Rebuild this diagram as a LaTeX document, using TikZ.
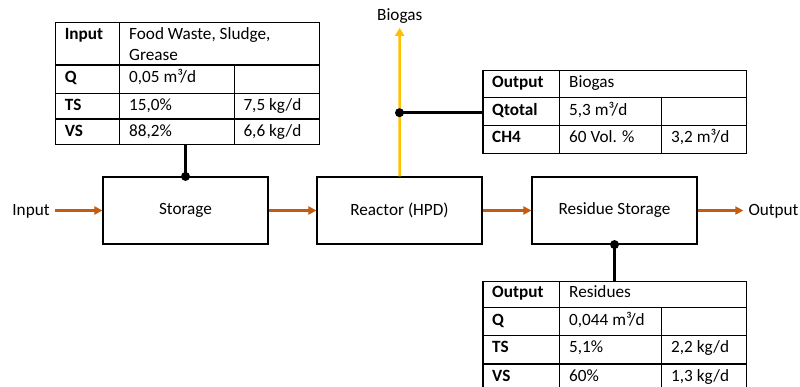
\documentclass[tikz,border=0pt]{standalone}
\usepackage{fontspec}
\setmainfont{Carlito}
\usetikzlibrary{arrows.meta}
\definecolor{orng}{HTML}{C55A11}
\definecolor{yel}{HTML}{FFC000}
\begin{document}
\begin{tikzpicture}[x=1pt,y=-1pt,
  every node/.style={font=\fontsize{17.2}{20}\selectfont},
  procbox/.style={draw, line width=1.1pt, minimum width=165pt, minimum height=67pt, inner sep=0pt},
  tblouter/.style={draw, line width=1.2pt, anchor=north west, inner sep=0pt},
  tline/.style={line width=1.2pt},
  lab/.style={anchor=base west, inner sep=0pt, font=\fontsize{17.2}{20}\selectfont\bfseries},
  val/.style={anchor=base west, inner sep=0pt},
  flow/.style={-{Triangle[length=8pt,width=8pt]}, line width=2.5pt, draw=orng},
  bio/.style={-{Triangle[length=8pt,width=9pt]}, line width=2.5pt, draw=yel},
  conn/.style={line width=2.5pt, draw=black},
  dotmark/.style={fill=black}
]
\useasboundingbox (0,0) rectangle (800,386);
\clip (0,0) rectangle (800,386);

% process boxes
\node[procbox] (st) at (185.5,210.5) {Storage};
\node[procbox] (re) at (399.5,210.5) {Reactor (HPD)};
\node[procbox] (rs) at (614.5,210.5) {Residue Storage};

% input / output labels
\node[val] (inp) at (12.2,215) {Input};
\node[val] (out) at (748.3,215) {Output};
\node[anchor=base, inner sep=0pt] (bg) at (399.7,20.7) {Biogas};

% flows
\draw[flow] ([xshift=5pt]st.west -| inp.east) -- (st.west);
\draw[flow] (st.east) -- (re.west);
\draw[flow] (re.east) -- (rs.west);
\draw[flow] (rs.east) -- ([xshift=-5pt]rs.east -| out.west);
\draw[bio] (re.north) -- ([yshift=-4pt]bg.south);

% ---- input table
\node[tblouter, minimum width=264pt, minimum height=122.3pt] (it) at (54.7,21.7) {};
\draw[tline] (119.3,21.7) -- (119.3,144);
\draw[tline] (234.3,65) -- (234.3,144);
\draw[tline] (54.7,65) -- (318.7,65);
\draw[tline] (54.7,93.3) -- (318.7,93.3);
\draw[tline] (54.7,119) -- (318.7,119);
\node[lab] at (64.7,39.3) {Input};
\node[val] at (129,39.3) {Food Waste, Sludge,};
\node[val] at (129,60.7) {Grease};
\node[lab] at (64.7,82.7) {Q};
\node[val] at (129,82.7) {0,05 m³/d};
\node[lab] at (64.7,110) {TS};
\node[val] at (129,110) {15,0\%};
\node[val] at (243.3,110) {7,5 kg/d};
\node[lab] at (64.7,136.7) {VS};
\node[val] at (129,136.7) {88,2\%};
\node[val] at (243.3,136.7) {6,6 kg/d};

% ---- biogas table
\node[tblouter, minimum width=263.7pt, minimum height=82.7pt] (bt) at (482.3,70) {};
\draw[tline] (559.3,70) -- (559.3,152.7);
\draw[tline] (661.7,97.7) -- (661.7,152.7);
\draw[tline] (482.3,97.7) -- (746,97.7);
\draw[tline] (482.3,125.7) -- (746,125.7);
\node[lab] at (492,87) {Output};
\node[val] at (569,87) {Biogas};
\node[lab] at (492,115) {Qtotal};
\node[val] at (569,115) {5,3 m³/d};
\node[lab] at (492,142.7) {CH4};
\node[val] at (569,142.7) {60 Vol. \%};
\node[val] at (671,142.7) {3,2 m³/d};

% ---- residues table
\node[tblouter, minimum width=263.7pt, minimum height=111pt] (rt) at (482.3,281) {};
\draw[tline] (559.3,281) -- (559.3,392);
\draw[tline] (661.7,307.7) -- (661.7,392);
\draw[tline] (482.3,307.7) -- (746,307.7);
\draw[tline] (482.3,335.7) -- (746,335.7);
\draw[tline] (482.3,364) -- (746,364);
\node[lab] at (492,297.3) {Output};
\node[val] at (569,297.3) {Residues};
\node[lab] at (492,325) {Q};
\node[val] at (569,325) {0,044 m³/d};
\node[lab] at (492,352.7) {TS};
\node[val] at (569,352.7) {5,1\%};
\node[val] at (671,352.7) {2,2 kg/d};
\node[lab] at (492,381) {VS};
\node[val] at (569,381) {60\%};
\node[val] at (671,381) {1,3 kg/d};

% ---- connectors
\draw[conn] (it.south -| st.north) -- (st.north);
\fill[dotmark] (st.north) circle (4.5pt);
\coordinate (bj) at (re.north |- 0,112.7);
\draw[conn] (bj) -- (bj -| bt.west);
\fill[dotmark] (bj) circle (4.5pt);
\draw[conn] (rs.south) -- (rs.south |- rt.north);
\fill[dotmark] (rs.south) circle (4.5pt);
\end{tikzpicture}
\end{document}
